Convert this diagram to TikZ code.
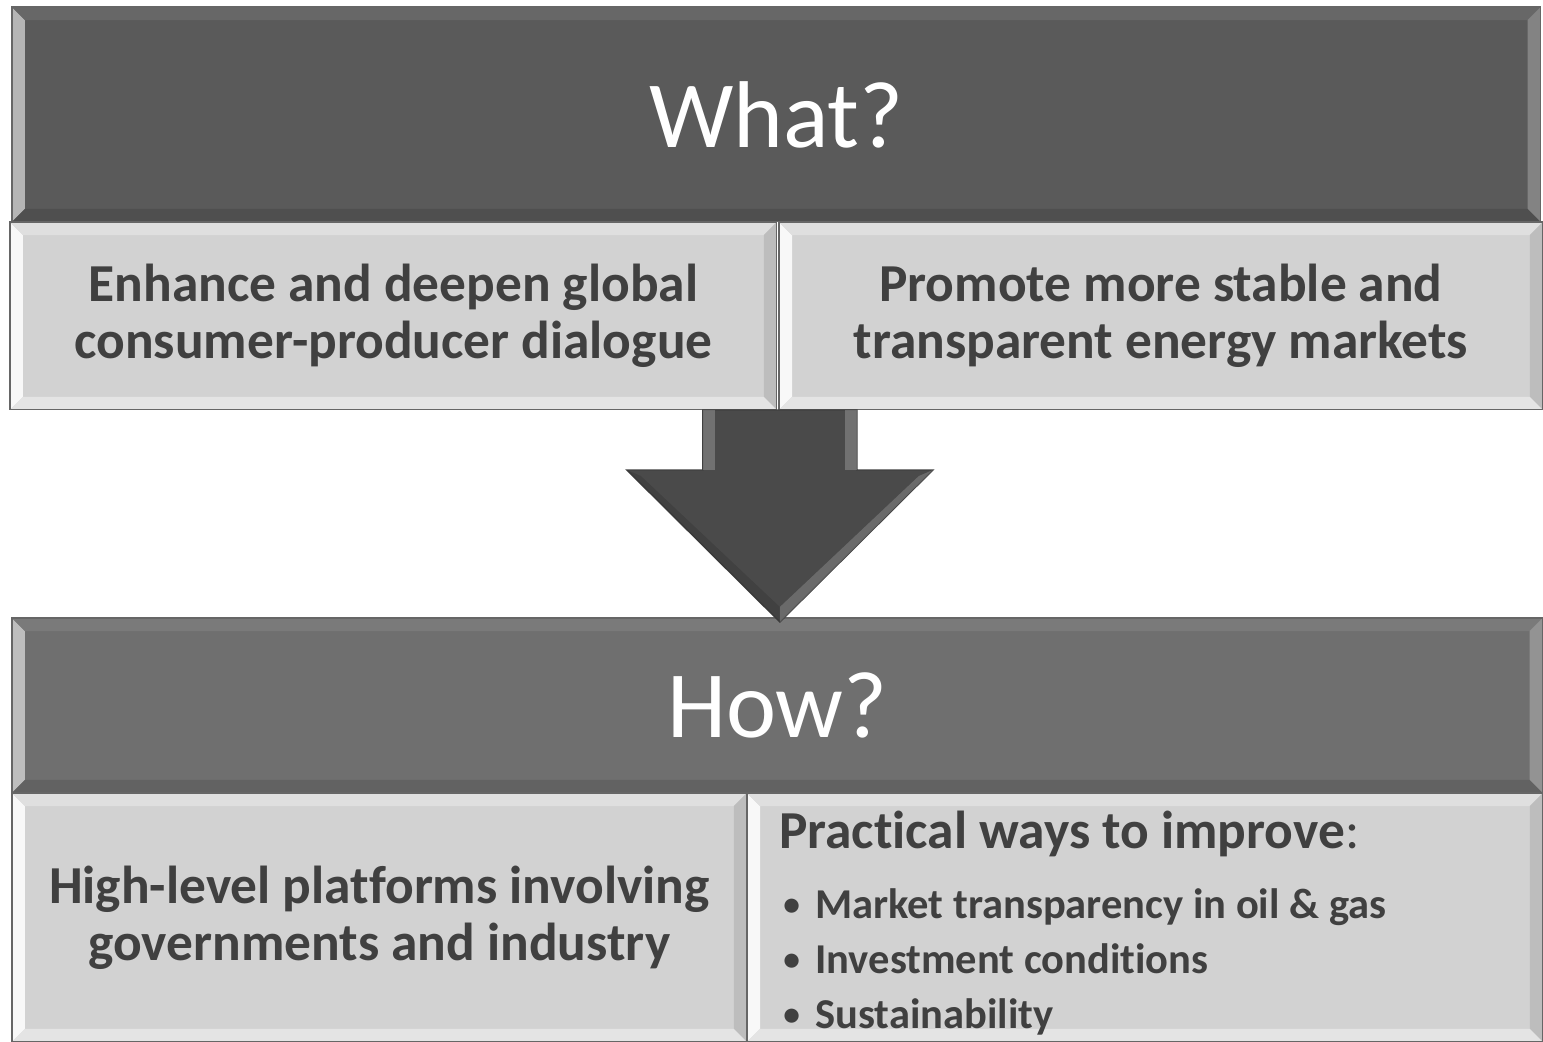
\documentclass[tikz,border=0pt]{standalone}
\usepackage{fontspec}
\setmainfont{Carlito}[Ligatures=NoCommon]
\usetikzlibrary{positioning}

\definecolor{whatgray}{HTML}{5A5A5A}
\definecolor{howgray}{HTML}{6F6F6F}
\definecolor{boxgray}{HTML}{D2D2D2}
\definecolor{inkgray}{HTML}{404040}
\definecolor{arrowgray}{HTML}{4A4A4A}

% bevel strips round a box node: #1 node, #2 left, #3 top, #4 right, #5 bottom
\newlength\bw \setlength\bw{0.26cm}
\newcommand\bevel[5]{%
  \fill[#2] (#1.north west) -- (#1.south west) -- ([xshift=\bw,yshift=\bw]#1.south west) -- ([xshift=\bw,yshift=-\bw]#1.north west) -- cycle;
  \fill[#3] (#1.north west) -- (#1.north east) -- ([xshift=-\bw,yshift=-\bw]#1.north east) -- ([xshift=\bw,yshift=-\bw]#1.north west) -- cycle;
  \fill[#4] (#1.north east) -- (#1.south east) -- ([xshift=-\bw,yshift=\bw]#1.south east) -- ([xshift=-\bw,yshift=-\bw]#1.north east) -- cycle;
  \fill[#5] (#1.south west) -- (#1.south east) -- ([xshift=-\bw,yshift=\bw]#1.south east) -- ([xshift=\bw,yshift=\bw]#1.south west) -- cycle;
  \draw[black!60, line width=0.6pt] (#1.north west) rectangle (#1.south east);
}

\tikzset{
  headbox/.style={rectangle, fill=#1, text=white, inner sep=0pt, outer sep=0pt,
    font=\fontsize{54}{60}\selectfont},
  goalbox/.style={rectangle, fill=boxgray, text=inkgray, inner sep=0pt, outer sep=0pt,
    align=center, font=\fontsize{30.4}{32.5}\selectfont\bfseries},
  itemtext/.style={text=inkgray, inner sep=0pt, anchor=base west,
    font=\fontsize{24.2}{28}\selectfont\bfseries}
}

\begin{document}
\begin{tikzpicture}[x=0.02cm, y=-0.02cm]

\useasboundingbox (0,0) rectangle (1543,1042);

% What?
\node[headbox=whatgray, minimum width=30.58cm, minimum height=4.3cm, anchor=north west]
  (what) at (12,7) {What?};
\bevel{what}{white!55!whatgray}{white!8!whatgray}{white!25!whatgray}{black!12!whatgray}

% the two goals
\node[goalbox, minimum width=15.34cm, minimum height=3.76cm, anchor=north west]
  (goalL) at (10,222) {Enhance and deepen global\\consumer-producer dialogue};
\node[goalbox, minimum width=15.28cm, minimum height=3.76cm, anchor=north west]
  (goalR) at (779,222) {Promote more stable and\\transparent energy markets};
\bevel{goalL}{white!85!boxgray}{white!30!boxgray}{black!10!boxgray}{white!40!boxgray}
\bevel{goalR}{white!85!boxgray}{white!30!boxgray}{black!10!boxgray}{white!40!boxgray}

% How?
\node[headbox=howgray, minimum width=30.62cm, minimum height=3.5cm, anchor=north west]
  (how) at (12,618) {How?};
\bevel{how}{white!55!howgray}{white!8!howgray}{white!25!howgray}{black!12!howgray}

% the means
\node[goalbox, minimum width=14.7cm, minimum height=4.98cm, anchor=north west]
  (meansL) at (12,793) {High-level platforms involving\\governments and industry};
\node[goalbox, minimum width=15.92cm, minimum height=4.98cm, anchor=north west]
  (meansR) at (747,793) {};
\bevel{meansL}{white!85!boxgray}{white!30!boxgray}{black!10!boxgray}{white!40!boxgray}
\bevel{meansR}{white!85!boxgray}{white!30!boxgray}{black!10!boxgray}{white!40!boxgray}

\node[itemtext, font=\fontsize{30.4}{34}\selectfont] (practical) at (779,848)
  {\textbf{Practical ways to improve}:};
\foreach \txt [count=\i] in {Market transparency in oil \& gas, Investment conditions, Sustainability}
  \node[itemtext] (item\i) at (780,{918+55*(\i-1)})
    {\makebox[0.7cm][l]{\hspace{0.06cm}\raisebox{0.06cm}{\fontsize{19}{20}\selectfont\textbullet}}\txt};

% arrow from the goals down to How?
\coordinate (tip) at ([xshift=0.05cm,yshift=-0.08cm]how.north);
\fill[arrowgray, draw=black!75, line width=0.8pt] (tip) -- ++(-153,-152) -- ++(76,0)
  -- ++(0,-60) -- ++(154,0) -- ++(0,60) -- ++(76,0) -- cycle;
% bevel light on the arrow
\fill[white, opacity=0.22] (tip) ++(-77,-212) rectangle ++(12,60);
\fill[white, opacity=0.22] (tip) ++(77,-212) rectangle ++(-12,60);
\fill[white, opacity=0.18] (tip) -- ++(153,-152) -- ++(-14,6) -- ([yshift=0.3cm]tip) -- cycle;
\fill[black, opacity=0.12] (tip) -- ++(-153,-152) -- ++(14,6) -- ([yshift=0.3cm]tip) -- cycle;

\end{tikzpicture}
\end{document}
